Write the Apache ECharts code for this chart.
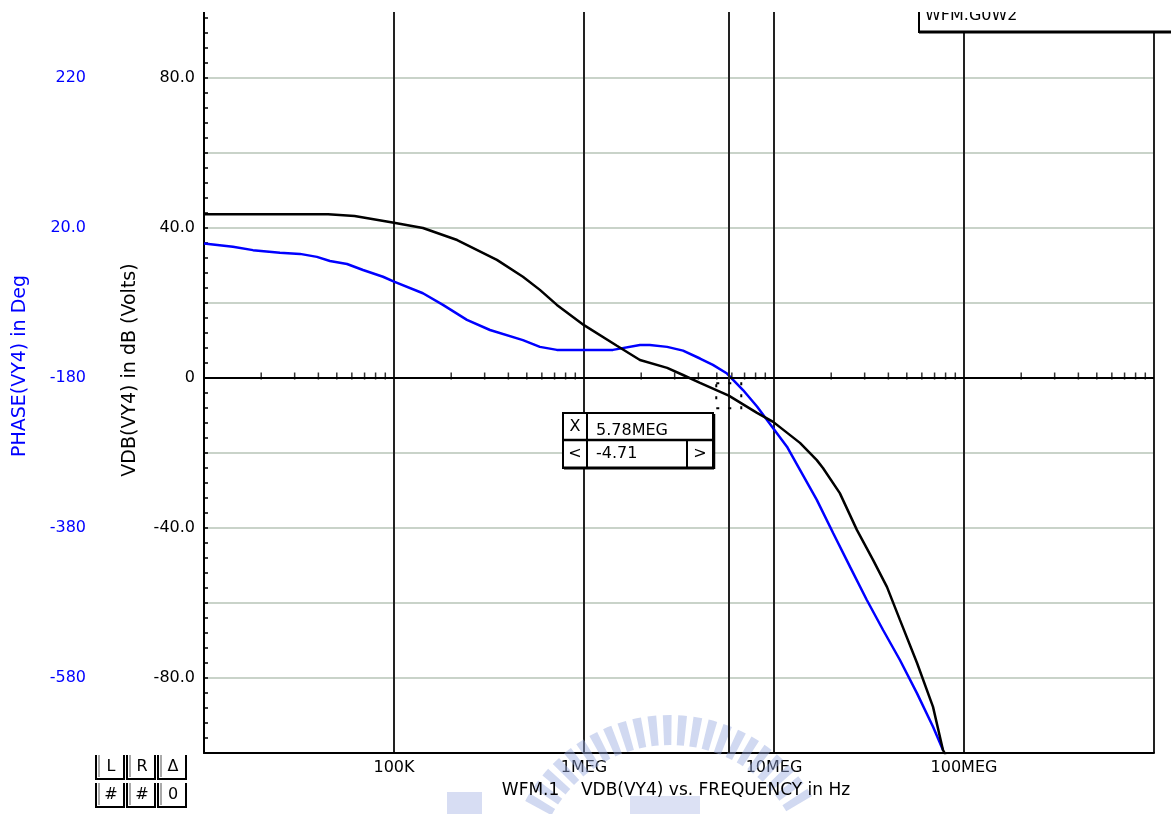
<!DOCTYPE html>
<html>
<head>
<meta charset="utf-8">
<script src="https://cdn.jsdelivr.net/npm/echarts@6/dist/echarts.min.js"></script>
<style>
html,body{margin:0;padding:0;background:#fff;}
#c{width:1171px;height:814px;}
</style>
</head>
<body>
<div id="c"></div>
<script>
// ---- data ----
const magFreq = [1e4, 2e4, 4.5e4, 6.2e4, 1e5, 1.42e5, 2.15e5, 3.48e5, 4.77e5, 5.86e5, 7.2e5, 1e6, 1.49e6, 1.97e6, 2.74e6, 3.32e6, 4.08e6, 5.78e6, 8.14e6, 9.9e6, 1.37e7, 1.68e7, 1.81e7, 2.22e7, 2.73e7, 3.32e7, 3.93e7, 4.6e7, 5.66e7, 6.87e7, 7.75e7, 8.0e7];
const magDb   = [43.7, 43.7, 43.7, 43.2, 41.4, 40.0, 36.8, 31.5, 27.0, 23.5, 19.5, 14.1, 8.6, 4.8, 2.7, 0.8, -1.3, -4.71, -9.3, -11.7, -17.3, -21.9, -24.0, -30.7, -40.5, -48.5, -55.7, -64.5, -76.0, -87.7, -99.2, -100.5];

const phaseFreq = [1e4, 1.42e4, 1.81e4, 2.51e4, 3.2e4, 3.93e4, 4.6e4, 5.66e4, 6.87e4, 8.75e4, 1e5, 1.42e5, 1.81e5, 2.42e5, 3.2e5, 4.77e5, 5.86e5, 7.2e5, 1.42e6, 1.97e6, 2.22e6, 2.74e6, 3.32e6, 4.08e6, 4.77e6, 5.66e6, 6.87e6, 8.14e6, 9.19e6, 9.9e6, 1.17e7, 1.37e7, 1.68e7, 2.05e7, 2.51e7, 3.08e7, 3.75e7, 4.6e7, 5.66e7, 6.87e7, 7.75e7];
const phaseDeg  = [-0.5, -5, -9.5, -13, -14.5, -18.5, -24, -28, -36, -45, -51.5, -67, -82.5, -102.5, -116, -129.5, -138.5, -142.5, -142.5, -136, -136, -138.5, -143.5, -154, -162.5, -174, -196, -218, -236, -247, -271.5, -302.5, -342.5, -387, -431.5, -476, -516, -556, -600.5, -645, -676];

const xTickValues = [1e5, 1e6, 1e7, 1e8];
const xTickLabels = ['100K', '1MEG', '10MEG', '100MEG'];
const dbTickValues = [80, 40, 0, -40, -80];
const dbTickLabels = ['80.0', '40.0', '0', '-40.0', '-80.0'];
const phaseTickValues = [220, 20, -180, -380, -580];
const phaseTickLabels = ['220', '20.0', '-180', '-380', '-580'];
const minorMultipliers = [2, 3, 4, 5, 6, 7, 8, 9];
const decades = [1e4, 1e5, 1e6, 1e7, 1e8];

const cursorFreq = 5.78e6;
const cursorDb = -4.71;
const cursorFreqText = '5.78MEG';
const cursorDbText = '-4.71';

const xTitle = 'WFM.1    VDB(VY4) vs. FREQUENCY in Hz';
const dbTitle = 'VDB(VY4) in dB (Volts)';
const phaseTitle = 'PHASE(VY4) in Deg';
const waveTitle = 'WFM.G0W2';
const buttonLabels = [['L', 'R', 'Δ'], ['#', '#', '0']];

const dbMin = -100, dbMax = 97.87;
const phaseMin = -680, phaseMax = 309.35;

// ---- chart ----
const FONT = 'DejaVu Sans';
const minorTicks = [];
decades.forEach(d => minorMultipliers.forEach(m => minorTicks.push([d * m, 0])));

function lookup(v, vals, labels) {
  for (let i = 0; i < vals.length; i++) if (Math.abs(v - vals[i]) < 1e-6) return labels[i];
  return '';
}

const chart = echarts.init(document.getElementById('c'), null, {renderer: 'canvas'});

const graphics = [];
// axis titles
graphics.push({type: 'text', x: 20, y: 366, rotation: Math.PI / 2, z: 50,
  style: {text: phaseTitle, fill: '#0000ff', font: '19px "' + FONT + '"', textAlign: 'center', textVerticalAlign: 'middle'}});
graphics.push({type: 'text', x: 130, y: 370, rotation: Math.PI / 2, z: 50,
  style: {text: dbTitle, fill: '#000', font: '19px "' + FONT + '"', textAlign: 'center', textVerticalAlign: 'middle'}});
graphics.push({type: 'text', x: 676, y: 791, z: 50,
  style: {text: xTitle, fill: '#000', font: '17px "' + FONT + '"', textAlign: 'center', textVerticalAlign: 'middle'}});

// watermark
graphics.push({type: 'arc', z: 1, shape: {cx: 670, cy: 880, r: 150, startAngle: Math.PI + 0.5, endAngle: 2 * Math.PI - 0.5, clockwise: true},
  style: {stroke: '#9aaae0', lineWidth: 30, lineDash: [8, 6], fill: null, opacity: 0.45}});
graphics.push({type: 'rect', z: 1, shape: {x: 447, y: 792, width: 35, height: 22},
  style: {fill: '#9aaae0', opacity: 0.4}});
graphics.push({type: 'rect', z: 1, shape: {x: 630, y: 796, width: 70, height: 18},
  style: {fill: '#9aaae0', opacity: 0.35}});

// top-right waveform box
graphics.push({type: 'rect', z: 60, shape: {x: 919, y: 0, width: 260, height: 32},
  style: {fill: '#fff', stroke: null}});
graphics.push({type: 'text', x: 925, y: 8, z: 61,
  style: {text: waveTitle, fill: '#000', font: '16px "' + FONT + '"', textVerticalAlign: 'top'}});
graphics.push({type: 'line', z: 62, shape: {x1: 919, y1: 0, x2: 919, y2: 33}, style: {stroke: '#000', lineWidth: 2}});
graphics.push({type: 'line', z: 62, shape: {x1: 919, y1: 32, x2: 1171, y2: 32}, style: {stroke: '#000', lineWidth: 3}});
// top blank strip
graphics.push({type: 'rect', z: 70, shape: {x: 0, y: 0, width: 1171, height: 12}, style: {fill: '#fff'}});

// cursor readout box
graphics.push({type: 'rect', z: 80, shape: {x: 563, y: 413, width: 150, height: 55}, style: {fill: '#fff', stroke: '#000', lineWidth: 2}});
graphics.push({type: 'line', z: 81, shape: {x1: 563, y1: 440, x2: 713, y2: 440}, style: {stroke: '#000', lineWidth: 2.5}});
graphics.push({type: 'line', z: 81, shape: {x1: 587, y1: 413, x2: 587, y2: 468}, style: {stroke: '#000', lineWidth: 2}});
graphics.push({type: 'line', z: 81, shape: {x1: 687, y1: 440, x2: 687, y2: 468}, style: {stroke: '#000', lineWidth: 2}});
graphics.push({type: 'line', z: 81, shape: {x1: 564, y1: 468, x2: 714, y2: 468}, style: {stroke: '#000', lineWidth: 3}});
graphics.push({type: 'line', z: 81, shape: {x1: 714, y1: 414, x2: 714, y2: 469}, style: {stroke: '#000', lineWidth: 2.5}});
[['X', 575, 427, 'center'], [cursorFreqText, 596, 431, 'left'], ['<', 575, 454, 'center'], [cursorDbText, 596, 454, 'left'], ['>', 700, 454, 'center']].forEach(t => {
  graphics.push({type: 'text', x: t[1], y: t[2], z: 82,
    style: {text: t[0], fill: '#000', font: '16px "' + FONT + '"', textAlign: t[3], textVerticalAlign: 'middle'}});
});

// bottom-left buttons
const colX = [96, 127, 158], rowY = [755, 783], bw = 28, bh = 24;
buttonLabels.forEach((row, r) => row.forEach((lab, c) => {
  const x = colX[c], y = rowY[r];
  graphics.push({type: 'polyline', z: 50, shape: {points: [[x, y], [x, y + bh], [x + bw, y + bh], [x + bw, y]]},
    style: {stroke: '#000', lineWidth: 2, fill: null}});
  graphics.push({type: 'line', z: 50, shape: {x1: x + 3, y1: y, x2: x + 3, y2: y + bh - 2}, style: {stroke: '#555', lineWidth: 1}});
  graphics.push({type: 'text', x: x + bw / 2 + 1, y: y + bh / 2, z: 51,
    style: {text: lab, fill: '#000', font: '16px "' + FONT + '"', textAlign: 'center', textVerticalAlign: 'middle'}});
}));

const option = {
  backgroundColor: '#fff',
  animation: false,
  grid: {left: 204, right: 17, top: 11, bottom: 61, containLabel: false},
  xAxis: [{
    type: 'log', logBase: 10, min: 1e4, max: 1e9, splitNumber: 5,
    axisLine: {onZero: false, lineStyle: {color: '#000', width: 2}},
    axisTick: {show: false},
    axisLabel: {fontFamily: FONT, fontSize: 16, color: '#000', margin: 7,
      formatter: v => {
        for (let i = 0; i < xTickValues.length; i++) if (Math.abs(Math.log10(v) - Math.log10(xTickValues[i])) < 1e-6) return xTickLabels[i];
        return '';
      }},
    splitLine: {show: true, lineStyle: {color: '#222', width: 2}}
  }],
  yAxis: [{
    type: 'value', min: dbMin, max: dbMax, interval: 4, position: 'left',
    axisLine: {show: true, lineStyle: {color: '#000', width: 2}},
    axisTick: {show: true, inside: true, length: 4, lineStyle: {color: '#000', width: 1.5}},
    axisLabel: {fontFamily: FONT, fontSize: 16, color: '#000', margin: 9,
      formatter: v => lookup(v, dbTickValues, dbTickLabels)},
    splitLine: {show: false}
  }, {
    type: 'value', min: phaseMin, max: phaseMax, interval: 20, position: 'left', offset: 110,
    axisLine: {show: false}, axisTick: {show: false},
    axisLabel: {fontFamily: FONT, fontSize: 16, color: '#0000ff', margin: 8,
      formatter: v => lookup(v, phaseTickValues, phaseTickLabels)},
    splitLine: {show: false}
  }, {
    type: 'value', min: dbMin, max: dbMax, interval: 20, position: 'left', show: true,
    axisLine: {show: false}, axisTick: {show: false}, axisLabel: {show: false},
    splitLine: {show: true, showMaxLine: false, showMinLine: false, lineStyle: {color: '#c9d3c9', width: 2}}
  }],
  graphic: graphics,
  series: [{
    name: 'VDB(VY4)', type: 'line', xAxisIndex: 0, yAxisIndex: 0,
    data: magFreq.map((f, i) => [f, magDb[i]]),
    showSymbol: false, symbol: 'none', clip: true, z: 5,
    lineStyle: {color: '#000', width: 2.5},
    markLine: {
      silent: true, symbol: ['none', 'none'], label: {show: false}, animation: false,
      lineStyle: {color: '#000', width: 2, type: 'solid'},
      data: [{yAxis: 0}, {xAxis: cursorFreq, lineStyle: {color: '#222', width: 2, type: 'solid'}}]
    },
    markPoint: {
      silent: true, animation: false, label: {show: false},
      data: [{coord: [cursorFreq, cursorDb], symbol: 'rect', symbolSize: 25,
        itemStyle: {color: 'rgba(0,0,0,0)', borderColor: '#000', borderWidth: 2, borderType: [3, 9]}}]
    }
  }, {
    name: 'PHASE(VY4)', type: 'line', xAxisIndex: 0, yAxisIndex: 1,
    data: phaseFreq.map((f, i) => [f, phaseDeg[i]]),
    showSymbol: false, symbol: 'none', clip: true, z: 4,
    lineStyle: {color: '#0000ff', width: 2.5}
  }, {
    name: 'ticks', type: 'scatter', xAxisIndex: 0, yAxisIndex: 0,
    data: minorTicks, symbol: 'rect', symbolSize: [1.5, 7], symbolOffset: [0, -2],
    itemStyle: {color: '#000'}, silent: true, z: 6
  }]
};
chart.setOption(option);
</script>
</body>
</html>
